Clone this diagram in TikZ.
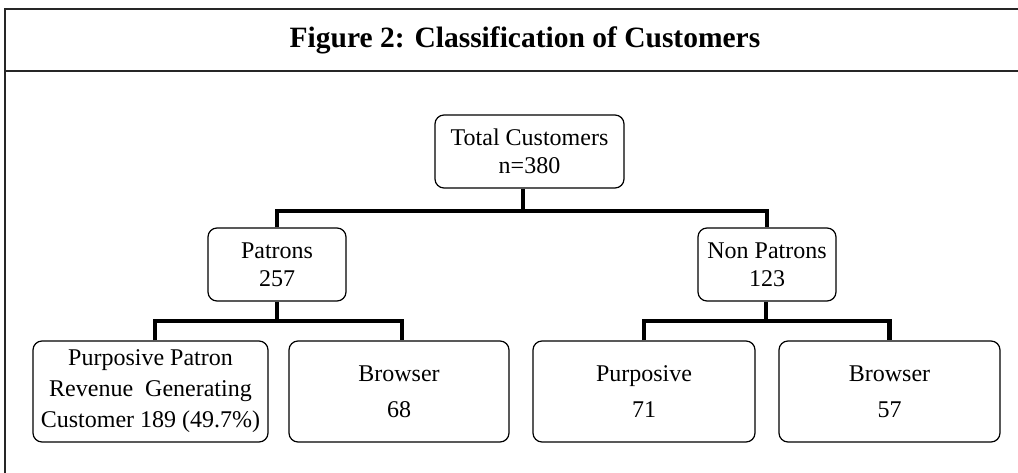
\documentclass[tikz,border=0pt]{standalone}
\usepackage{fontspec}
\setmainfont{Liberation Serif}
\begin{document}
\begin{tikzpicture}[x=1pt,y=-1pt,
  box/.style={draw, line width=1.2pt, rounded corners=9pt, align=center,
              inner sep=0pt, font=\fontsize{24}{28}\selectfont},
  conn/.style={line width=4.6pt, line join=miter},
  frame/.style={line width=1.2pt, draw=black!85}]
\useasboundingbox (0,0) rectangle (1018,473);

% outer frame and title bar
\draw[frame] (1018,9) -- (5,9) -- (5,473);
\draw[frame, line width=1.7pt] (5,71) -- (1018,71);
\node[font=\fontsize{29.5}{33}\selectfont\bfseries] (title) at (525,40)
  {Figure 2: Classification of Customers};

% tree nodes
\node[box, minimum width=189pt, minimum height=73pt] (total) at (529.5,151.5)
  {Total Customers\\n=380};
\node[box, minimum width=138pt, minimum height=73pt] (pat) at (277,264.5)
  {Patrons\\257};
\node[box, minimum width=138pt, minimum height=73pt] (npat) at (767,264.5)
  {Non Patrons\\123};
\node[box, minimum width=235pt, minimum height=101pt] (ppr) at (150.5,391.5)
  {Purposive Patron\\[3pt]Revenue\ \ Generating\\[3pt]Customer 189 (49.7\%)};
\node[box, minimum width=220pt, minimum height=101pt] (pb) at (399,391.5)
  {Browser\\[8pt]68};
\node[box, minimum width=222pt, minimum height=101pt] (np) at (644,391.5)
  {Purposive\\[8pt]71};
\node[box, minimum width=221pt, minimum height=101pt] (nb) at (889.5,391.5)
  {Browser\\[8pt]57};

% junction points of the connectors
\coordinate (j0) at (523,211);
\coordinate (j1) at (278.5,321);
\coordinate (j2) at (766,321);

% connectors
\draw[conn] (total.south -| j0) -- (j0);
\draw[conn] (pat.north) |- (j0) -| (npat.north);
\draw[conn] (pat.south) -- (pat.south |- j1);
\draw[conn] ([xshift=4.5pt]ppr.north) |- (j1) -| ([xshift=3pt]pb.north);
\draw[conn] (npat.south -| j2) -- (j2);
\draw[conn] (np.north) |- (j2) -| (nb.north);
\end{tikzpicture}
\end{document}
